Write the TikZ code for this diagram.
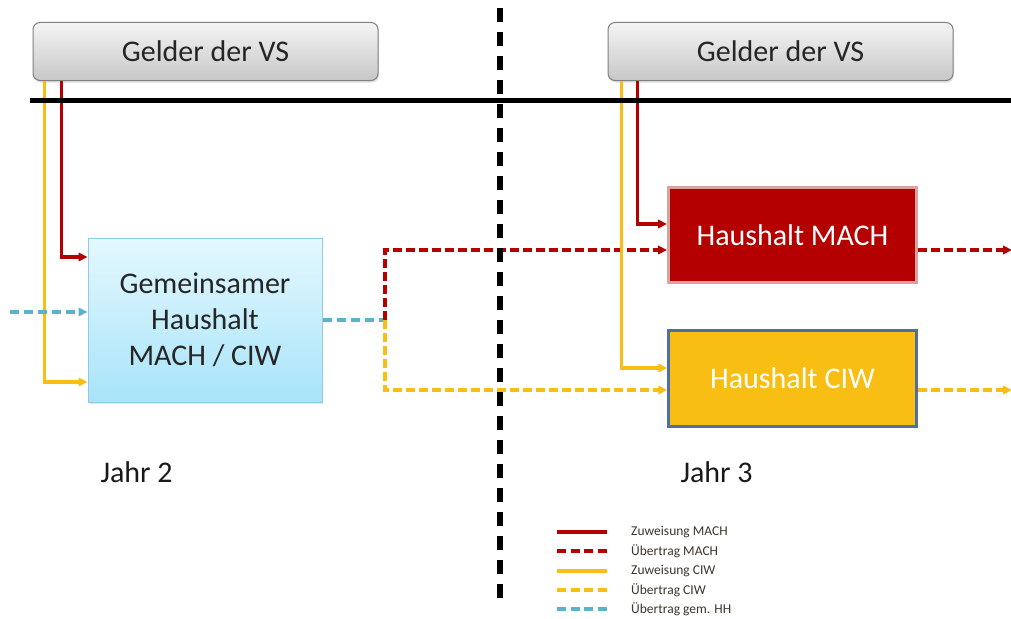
\documentclass[tikz,border=0pt]{standalone}
\usepackage{fontspec}
\setmainfont{Carlito}
\usetikzlibrary{arrows.meta,shadows}
\definecolor{machred}{HTML}{B50000}
\definecolor{machborder}{HTML}{DCA0A0}
\definecolor{ciwyel}{HTML}{F8BE14}
\definecolor{ciwborder}{HTML}{4F6FA0}
\definecolor{hhblue}{HTML}{5AB2CB}
\definecolor{txtgrey}{HTML}{262626}
\definecolor{gemtop}{HTML}{E4F8FE}
\definecolor{gembot}{HTML}{A8E4F9}
\definecolor{gemborder}{HTML}{8CCDE3}
\begin{document}
\begin{tikzpicture}[x=1pt,y=-1pt,
  vsbox/.style={draw=black!50, line width=1pt, rounded corners=7pt, top color=black!4, bottom color=black!22,
    minimum width=345pt, minimum height=58pt, font=\fontsize{30}{34}\selectfont, text=txtgrey,
    drop shadow={opacity=0.25, shadow xshift=1pt, shadow yshift=-2pt}},
  gembox/.style={draw=gemborder, line width=1pt, top color=gemtop, bottom color=gembot,
    minimum width=234pt, minimum height=164pt, align=center, font=\fontsize{30}{36}\selectfont, text=txtgrey,
    drop shadow={opacity=0.2, shadow xshift=1pt, shadow yshift=-2pt}},
  machbox/.style={draw=machborder, line width=3pt, fill=machred, minimum width=248pt, minimum height=95pt,
    font=\fontsize{30}{34}\selectfont, text=white},
  ciwbox/.style={draw=ciwborder, line width=2.5pt, fill=ciwyel, minimum width=248pt, minimum height=96pt,
    font=\fontsize{30}{34}\selectfont, text=white},
  tip/.style={-{Triangle[length=9pt,width=8.5pt]}},
  zuwm/.style={tip, draw=machred, line width=3.8pt},
  zuwc/.style={tip, draw=ciwyel, line width=3.8pt},
  uebm/.style={tip, draw=machred, line width=3.8pt, dash pattern=on 9pt off 4pt},
  uebc/.style={tip, draw=ciwyel, line width=3.8pt, dash pattern=on 9pt off 4pt},
  uebh/.style={tip, draw=hhblue, line width=3.2pt, dash pattern=on 9pt off 5pt},
  lbl/.style={font=\fontsize{30}{34}\selectfont, text=black!90, anchor=base west},
  legtxt/.style={font=\fontsize{13.5}{15}\selectfont, text=txtgrey!85!brown, anchor=west, inner sep=0pt}
]
\useasboundingbox (0,0) rectangle (1011,618);

% nodes
\node[vsbox] (vs1) at (205.5,51.5) {Gelder der VS};
\node[vsbox] (vs2) at (780.5,51.5) {Gelder der VS};
\node[gembox] (gem) at (205,320) {Gemeinsamer\\Haushalt\\MACH / CIW};
\node[machbox] (mach) at (792.5,235) {Haushalt MACH};
\node[ciwbox] (ciw) at (792.5,378.5) {Haushalt CIW};
\node[lbl] (j2) at (97,482) {Jahr 2};
\node[lbl] (j3) at (677,482) {Jahr 3};

% coordinates
\coordinate (hl1) at (30,100);
\coordinate (hl2) at (1011,100);
\coordinate (vl1) at (500,8);
\coordinate (vl2) at (500,600);
\coordinate (j) at (385,320);
\coordinate (bin) at (10,312);
\coordinate (mout) at (1012,250);
\coordinate (cout) at (1012,390);

% year 2 allocations
\draw[zuwc] ([xshift=12pt]vs1.south west) |- ([yshift=-62pt]gem.west);
\draw[zuwm] ([xshift=29pt]vs1.south west) |- ([yshift=63pt]gem.west);
\draw[uebh] (bin) -- (bin -| gem.west);
\draw[hhblue, line width=3.2pt, dash pattern=on 9pt off 5pt] (gem.east) -- (j);
\draw[uebm] (j) |- ([yshift=-15pt]mach.west);
\draw[uebc] (j) |- ([yshift=-11.5pt]ciw.west);

% year 3 allocations
\draw[zuwc] ([xshift=14pt]vs2.south west) |- ([yshift=10.5pt]ciw.west);
\draw[zuwm] ([xshift=30pt]vs2.south west) |- ([yshift=11pt]mach.west);
\draw[uebm] ([yshift=-15pt]mach.east) -- (mout);
\draw[uebc] ([yshift=-11.5pt]ciw.east) -- (cout);

% separators
\draw[black, line width=5pt] (hl1) -- (hl2);
\draw[black, line width=5.5pt, dash pattern=on 14pt off 10pt] (vl1) -- (vl2);

% legend
\draw[machred, line width=3.8pt] (557,532) -- (607,532);
\node[legtxt] (l1) at (631,532) {Zuweisung MACH};
\draw[machred, line width=3.8pt, dash pattern=on 9pt off 4.6pt] (557,551) -- (607,551);
\node[legtxt] (l2) at (631,551) {Übertrag MACH};
\draw[ciwyel, line width=3.8pt] (557,571) -- (607,571);
\node[legtxt] (l3) at (631,571) {Zuweisung CIW};
\draw[ciwyel, line width=3.8pt, dash pattern=on 9pt off 4.6pt] (557,590) -- (607,590);
\node[legtxt] (l4) at (631,590) {Übertrag CIW};
\draw[hhblue, line width=3.8pt, dash pattern=on 9pt off 4.6pt] (557,609) -- (607,609);
\node[legtxt] (l5) at (631,609) {Übertrag gem. HH};
\end{tikzpicture}
\end{document}
